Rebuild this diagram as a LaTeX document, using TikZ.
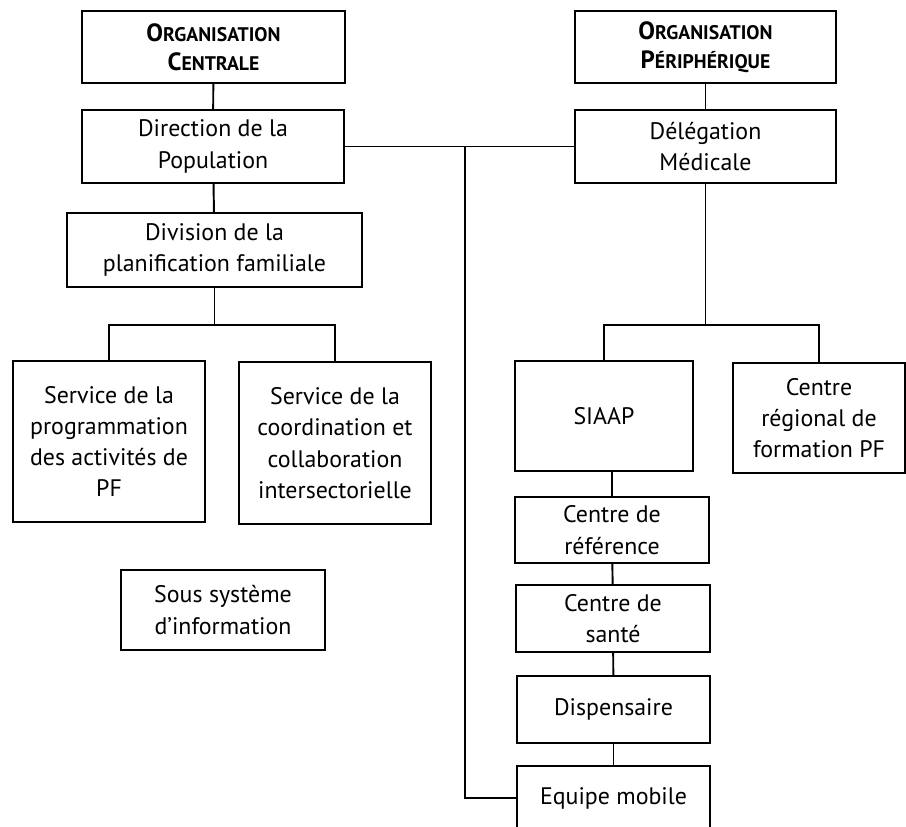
\documentclass[tikz,border=0pt]{standalone}
\usepackage{fontspec}
\setmainfont{PT Sans}
\newcommand{\capsc}[2]{#1{\fontsize{11.2}{16.5}\selectfont#2}}

\begin{document}
\begin{tikzpicture}[x=0.02cm, y=-0.02cm,
    box/.style={rectangle, draw, line width=1.1pt, align=center, inner sep=2pt, font=\fontsize{13.6}{17.8}\selectfont},
    head/.style={box, font=\fontsize{14.2}{16.5}\selectfont\bfseries},
    link/.style={line width=1.1pt}
]
    \useasboundingbox (0,0) rectangle (906,827);

    % Organisation centrale
    \node[head, minimum width=5.26cm, minimum height=1.44cm] (oc) at (213.5, 47) {\capsc{O}{RGANISATION}\\\capsc{C}{ENTRALE}};
    \node[box, minimum width=5.24cm, minimum height=1.46cm] (dp) at (213, 146.5) {Direction de la\\Population};
    \node[box, minimum width=5.90cm, minimum height=1.48cm] (dv) at (214.5, 250) {Division de la\\planification familiale};
    \node[box, minimum width=3.84cm, minimum height=3.22cm] (sp) at (109, 441.5) {Service de la\\programmation\\des activités de\\PF};
    \node[box, minimum width=3.84cm, minimum height=3.24cm] (sc) at (335, 443) {Service de la\\coordination et\\collaboration\\intersectorielle};
    \node[box, minimum width=4.08cm, minimum height=1.60cm] (ss) at (223, 610) {Sous système\\d'information};

    % Organisation peripherique
    \node[head, minimum width=5.22cm, minimum height=1.44cm] (op) at (705.5, 47) {\capsc{O}{RGANISATION}\\\capsc{P}{ÉRIPHÉRIQUE}};
    \node[box, minimum width=5.22cm, minimum height=1.46cm] (dm) at (705.5, 146.5) {Délégation\\Médicale};
    \node[box, minimum width=3.56cm, minimum height=2.20cm] (si) at (604, 416) {SIAAP};
    \node[box, minimum width=3.44cm, minimum height=2.20cm] (cr) at (819, 418) {Centre\\régional de\\formation PF};
    \node[box, minimum width=3.88cm, minimum height=1.32cm] (cref) at (612, 530) {Centre de\\référence};
    \node[box, minimum width=3.88cm, minimum height=1.34cm] (cs) at (613, 618.5) {Centre de\\santé};
    \node[box, minimum width=3.86cm, minimum height=1.34cm] (dsp) at (613.5, 709.5) {Dispensaire};
    \node[box, minimum width=3.86cm, minimum height=1.28cm] (em) at (613.5, 798) {Equipe mobile};

    % Liaisons
    \coordinate (lbus) at (214.5, 325);
    \coordinate (rbus) at (705.5, 325);
    \coordinate (trunk) at (465, 146.5);
    \draw[link] (oc) -- (dp);
    \draw[link] (dp) -- (dv);
    \draw[link] (dv) -- (lbus);
    \draw[link] (sp.north) |- (lbus) -| (sc.north);
    \draw[link] (op) -- (dm);
    \draw[link] (dp.east) -- (dm.west);
    \draw[link] (trunk) |- (em.west);
    \draw[link] (dm) -- (rbus);
    \draw[link] (si.north) |- (rbus) -| (cr.north);
    \draw[link] (si.south -| cref.north) -- (cref.north);
    \draw[link] (cref) -- (cs);
    \draw[link] (cs) -- (dsp);
    \draw[link] (dsp) -- (em);
\end{tikzpicture}
\end{document}
